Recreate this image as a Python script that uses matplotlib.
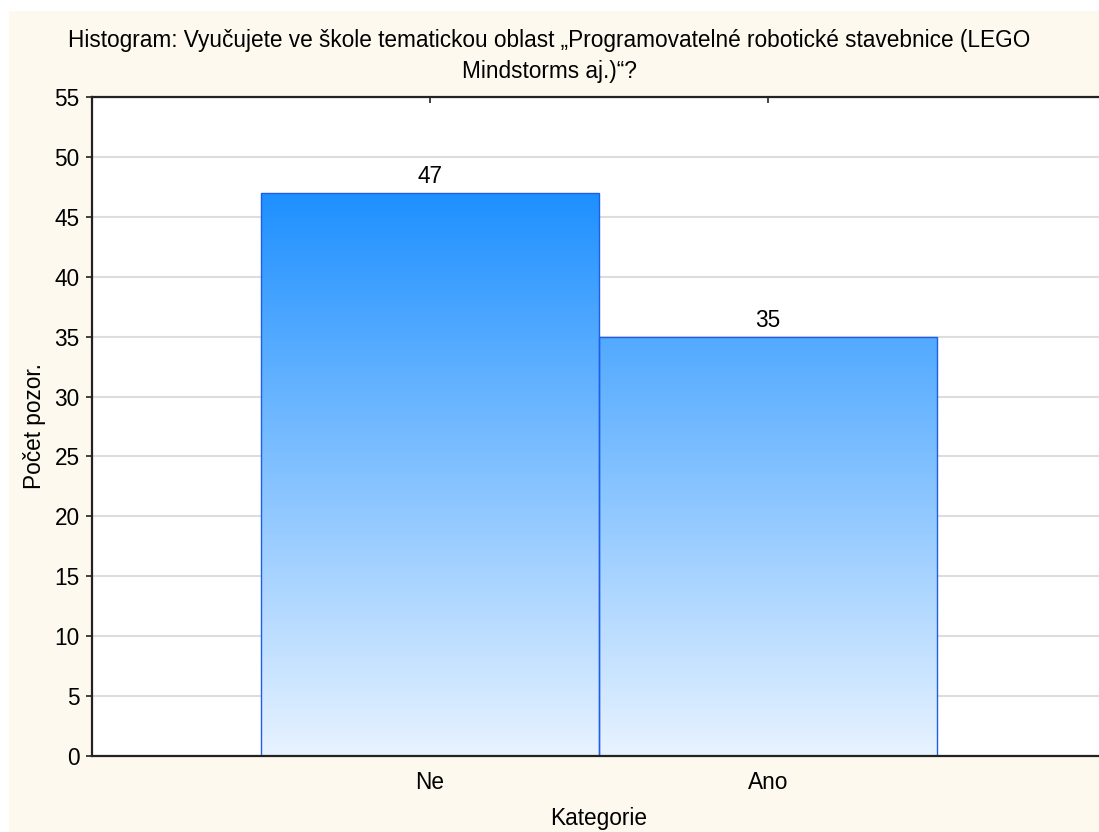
import numpy as np
import matplotlib.pyplot as plt
from matplotlib.patches import Rectangle
from matplotlib.colors import LinearSegmentedColormap

kategorie = ['Ne', 'Ano']
pocty = [47, 35]

plt.rcParams['font.family'] = ['Liberation Sans', 'DejaVu Sans']
fs = 16.3

krem = '#fef9ee'
fig = plt.figure(figsize=(10.99, 8.32), dpi=100, facecolor='white')
# kremove pozadi (vlevo nahore je bily okraj)
fig.patches.append(Rectangle((9 / 1099, 0), 1, 1 - 11 / 832, transform=fig.transFigure,
                             facecolor=krem, edgecolor='none', zorder=-10))

ax = fig.add_axes([92 / 1099, 76 / 832, 1014 / 1099, 659 / 832])
ax.set_facecolor('white')

x = np.arange(len(kategorie))
bars = ax.bar(x, pocty, width=1.0, color='none', edgecolor='#1f5fe8', linewidth=1, zorder=3)

# gradient v barech
cmap = LinearSegmentedColormap.from_list('modra', ['#e8f3ff', '#1e90ff'])
grad = np.linspace(0, 1, 256).reshape(-1, 1)
for b in bars:
    im = ax.imshow(grad, cmap=cmap, origin='lower', aspect='auto',
                   extent=[b.get_x(), b.get_x() + b.get_width(), 0, max(pocty)], zorder=2)
    im.set_clip_path(b)

for xi, v in zip(x, pocty):
    ax.text(xi, v + 0.4, str(v), ha='center', va='bottom', fontsize=fs)

ax.set_xlim(-1, 2)
ax.set_ylim(0, 55)
ax.set_yticks(np.arange(0, 56, 5))
ax.set_xticks(x)
ax.set_xticklabels(kategorie, fontsize=fs)
ax.tick_params(axis='y', labelsize=fs, direction='out', length=4, width=1.2, color='#222222', pad=5)
ax.tick_params(axis='x', direction='in', length=4, width=1.2, color='#222222', top=True, pad=11)
ax.grid(axis='y', color='#dddddd', linewidth=1.5, zorder=0)
ax.set_axisbelow(True)

for s in ax.spines.values():
    s.set_color('#222222')
    s.set_linewidth(1.6)
    s.set_zorder(4)

ax.set_xlabel('Kategorie', fontsize=fs, labelpad=9)
ax.set_ylabel('Počet pozor.', fontsize=fs, labelpad=6)

fig.text(0.5, 1 - 56 / 832,
         'Histogram: Vyučujete ve škole tematickou oblast \u201eProgramovatelné robotické stavebnice (LEGO\n'
         'Mindstorms aj.)\u201c?',
         ha='center', va='center', fontsize=fs, linespacing=1.4)

plt.savefig('out.png', dpi=100, facecolor=fig.get_facecolor())
